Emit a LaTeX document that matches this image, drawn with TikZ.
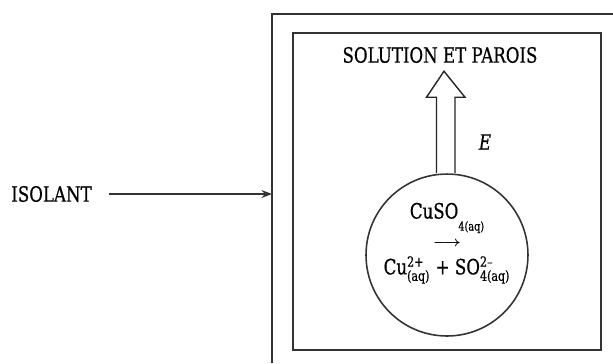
\documentclass[tikz,border=0pt]{standalone}
\usepackage{amsmath}
\usepackage{fontspec}
\setmainfont[FakeStretch=0.79, FakeBold=0.6]{DejaVu Serif}
\usetikzlibrary{arrows.meta, positioning, calc}

\begin{document}
\begin{tikzpicture}[x=0.02cm, y=-0.02cm,
    paroi/.style={draw=black!80, line width=0.9pt},
    lbl/.style={font=\fontsize{12}{14}\selectfont, inner sep=0pt},
    fleche/.style={draw=black!85, line width=0.8pt, fill=white, line join=miter},
    fil/.style={draw=black!80, line width=0.8pt, -{Stealth[length=6pt, width=4.5pt]}}
]
    \useasboundingbox (0,0) rectangle (613,363);

    % outer box (cut by the page) and inner box
    \draw[paroi] (272,363) -- (272,14) -- (613,14);
    \draw[paroi] (293,33) rectangle (601,350);
    \coordinate (wall) at (272,194);

    \node[lbl] (isolant) at (51.5,194) {ISOLANT};
    \draw[fil] ([xshift=0.34cm]isolant.east) -- (wall);

    \node[lbl] (titre) at (440,55) {SOLUTION ET PAROIS};

    \node[circle, paroi, minimum size=3.24cm, inner sep=0pt] (syst) at (447,255) {};
    \node[lbl] (reac) at (447,218) {CuSO\raisebox{-1.1ex}{\scriptsize 4(aq)}};
    \node[lbl] (sens) at (447,244) {$\scriptstyle\boldsymbol{\longrightarrow}$};
    \node[lbl] (prod) at (447,270) {Cu$^{\text{2+}}_{\text{(aq)}}$ + SO$^{\text{2--}}_{\text{4(aq)}}$};

    % energy arrow leaving the system
    \draw[fleche] ($(syst.north)+(-10.5,0)$) -- ++(0,-76) -- ++(-10,0)
        -- ($(syst.north)+(-3,-102)$) -- ($(syst.north)+(18,-76)$)
        -- ++(-10,0) -- ($(syst.north)+(8,0)$);
    \node[lbl] (energie) at (485,142) {\textit{E}};
\end{tikzpicture}
\end{document}
